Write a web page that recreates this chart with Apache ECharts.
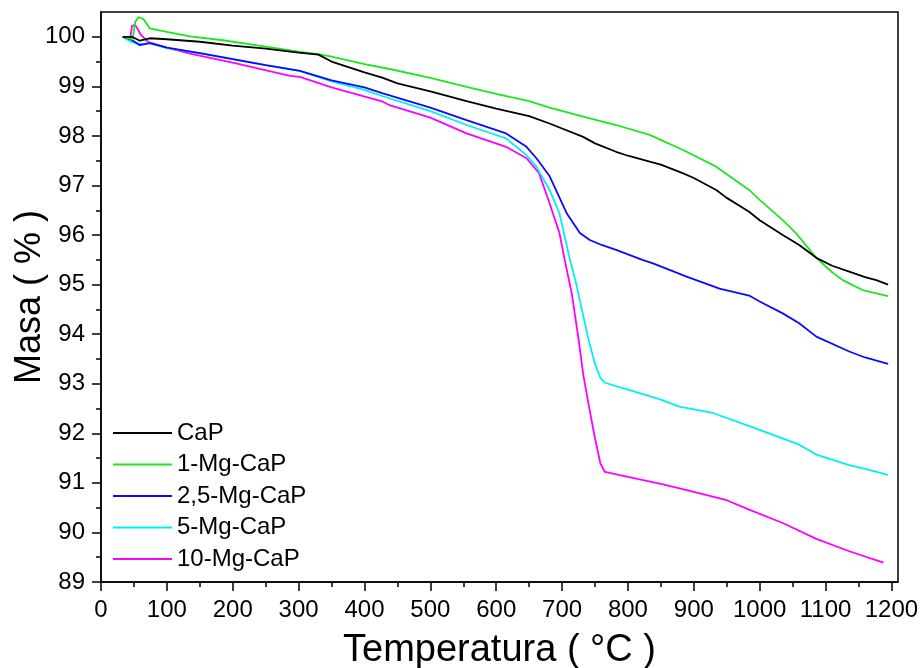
<!DOCTYPE html>
<html>
<head>
<meta charset="utf-8">
<script src="https://cdn.jsdelivr.net/npm/echarts@6/dist/echarts.min.js"></script>
<style>html,body{margin:0;padding:0;background:#fff;}#c{width:924px;height:668px;}</style>
</head>
<body>
<div id="c"></div>
<script>
// ---- data ----
const seriesNames = ['CaP', '1-Mg-CaP', '2,5-Mg-CaP', '5-Mg-CaP', '10-Mg-CaP'];
const seriesColors = ['#000000', '#1ee61e', '#0a0aff', '#00f0f0', '#ff00ff'];

const capT = [33, 47, 59, 74, 100, 150, 200, 250, 300, 330, 350, 400, 428, 450, 500, 555, 600, 650, 681, 700, 732, 750, 782, 800, 833, 850, 883, 900, 934, 950, 984, 1000, 1035, 1060, 1086, 1110, 1136, 1160, 1177, 1195];
const capM = [100.0, 100.0, 99.92, 99.97, 99.95, 99.9, 99.82, 99.76, 99.68, 99.64, 99.5, 99.28, 99.17, 99.06, 98.9, 98.7, 98.55, 98.4, 98.25, 98.15, 97.98, 97.85, 97.68, 97.6, 97.48, 97.42, 97.25, 97.15, 96.91, 96.75, 96.47, 96.3, 96.0, 95.8, 95.54, 95.38, 95.26, 95.15, 95.09, 95.0];

const mg1T = [33, 48, 52, 57, 65, 74, 100, 135, 185, 250, 300, 330, 350, 400, 438, 500, 555, 600, 650, 681, 732, 782, 833, 883, 934, 984, 1000, 1035, 1055, 1086, 1110, 1126, 1156, 1195];
const mg1M = [100.0, 99.95, 100.3, 100.4, 100.35, 100.17, 100.1, 100.01, 99.93, 99.8, 99.7, 99.65, 99.6, 99.45, 99.35, 99.17, 98.99, 98.85, 98.7, 98.57, 98.39, 98.22, 98.02, 97.72, 97.38, 96.91, 96.71, 96.3, 96.04, 95.54, 95.25, 95.09, 94.89, 94.77];

const mg25T = [33, 45, 59, 74, 100, 150, 200, 250, 302, 350, 400, 428, 500, 555, 615, 646, 661, 681, 707, 727, 742, 760, 782, 822, 838, 889, 939, 984, 1000, 1035, 1060, 1086, 1136, 1160, 1195];
const mg25M = [100.0, 99.95, 99.83, 99.87, 99.78, 99.67, 99.55, 99.43, 99.31, 99.12, 98.98, 98.86, 98.57, 98.32, 98.05, 97.78, 97.55, 97.19, 96.44, 96.04, 95.9, 95.8, 95.7, 95.5, 95.43, 95.16, 94.92, 94.78, 94.66, 94.42, 94.22, 93.95, 93.65, 93.53, 93.4];

const mg5T = [33, 45, 59, 74, 100, 150, 200, 250, 302, 350, 400, 428, 500, 555, 615, 646, 661, 681, 696, 712, 720, 730, 740, 750, 758, 765, 800, 850, 878, 929, 1000, 1060, 1086, 1136, 1160, 1195];
const mg5M = [100.0, 99.9, 99.85, 99.87, 99.77, 99.67, 99.55, 99.43, 99.31, 99.1, 98.93, 98.8, 98.5, 98.22, 97.95, 97.61, 97.38, 96.91, 96.44, 95.5, 95.1, 94.5, 93.9, 93.4, 93.12, 93.02, 92.88, 92.68, 92.54, 92.41, 92.07, 91.77, 91.57, 91.36, 91.28, 91.16];

const mg10T = [33, 44, 47, 52, 60, 71, 100, 135, 200, 287, 302, 350, 428, 438, 500, 555, 615, 646, 665, 681, 696, 704, 715, 725, 732, 740, 750, 758, 765, 800, 850, 900, 950, 984, 1035, 1086, 1136, 1188];
const mg10M = [100.0, 99.93, 100.22, 100.24, 100.05, 99.9, 99.78, 99.66, 99.48, 99.21, 99.19, 98.98, 98.69, 98.62, 98.37, 98.05, 97.78, 97.55, 97.25, 96.64, 96.04, 95.5, 94.8, 93.9, 93.2, 92.6, 91.9, 91.4, 91.22, 91.12, 90.98, 90.82, 90.65, 90.46, 90.19, 89.87, 89.62, 89.39];

const xTickLabels = [0, 100, 200, 300, 400, 500, 600, 700, 800, 900, 1000, 1100, 1200];
const xMinorTicks = [50, 150, 250, 350, 450, 550, 650, 750, 850, 950, 1050, 1150];
const yTickLabels = [89, 90, 91, 92, 93, 94, 95, 96, 97, 98, 99, 100];
const yMinorTicks = [89.5, 90.5, 91.5, 92.5, 93.5, 94.5, 95.5, 96.5, 97.5, 98.5, 99.5];

const xs = [capT, mg1T, mg25T, mg5T, mg10T];
const ys = [capM, mg1M, mg25M, mg5M, mg10M];

// ---- chart ----
const FONT = '"Liberation Sans", Arial, sans-serif';
const chart = echarts.init(document.getElementById('c'), null, {renderer: 'canvas'});
const zip = (a, b) => a.map((v, i) => [v, b[i]]);

const baseX = {type: 'value', min: 0, max: 1210, position: 'bottom'};
const baseY = {type: 'value', min: 89, max: 100.5, position: 'left'};

chart.setOption({
  animation: false,
  backgroundColor: '#ffffff',
  grid: {left: 101, top: 12, right: 26, bottom: 86, show: true, borderColor: '#000', borderWidth: 1.5,
         containLabel: false, outerBoundsMode: 'none'},
  legend: {
    orient: 'vertical', left: 108, top: 416, itemWidth: 59, itemHeight: 2, itemGap: 7.5,
    icon: 'rect',
    textStyle: {fontFamily: FONT, fontSize: 24, color: '#000', lineHeight: 24},
    data: seriesNames
  },
  xAxis: [
    Object.assign({}, baseX, {
      name: 'Temperatura ( °C )', nameLocation: 'middle', nameGap: 50,
      nameTextStyle: {fontFamily: FONT, fontSize: 38, color: '#000'},
      axisLine: {show: true, lineStyle: {color: '#000', width: 1.5}},
      axisTick: {show: true, length: 9, lineStyle: {color: '#000', width: 1.5}, customValues: xTickLabels},
      axisLabel: {fontFamily: FONT, fontSize: 24, color: '#000', margin: 16, customValues: xTickLabels,
                  formatter: v => String(v)},
      splitLine: {show: false}
    }),
    Object.assign({}, baseX, {
      axisLine: {show: false},
      axisTick: {show: true, length: 5, lineStyle: {color: '#000', width: 1.5}, customValues: xMinorTicks},
      axisLabel: {show: false},
      splitLine: {show: false}
    })
  ],
  yAxis: [
    Object.assign({}, baseY, {
      name: 'Masa ( % )', nameLocation: 'middle', nameGap: 53, nameRotate: 90, nameMoveOverlap: false,
      nameTextStyle: {fontFamily: FONT, fontSize: 36, color: '#000'},
      axisLine: {show: true, lineStyle: {color: '#000', width: 1.5}},
      axisTick: {show: true, length: 9, lineStyle: {color: '#000', width: 1.5}, customValues: yTickLabels},
      axisLabel: {fontFamily: FONT, fontSize: 24, color: '#000', margin: 16, customValues: yTickLabels,
                  formatter: v => String(v)},
      splitLine: {show: false}
    }),
    Object.assign({}, baseY, {
      axisLine: {show: false},
      axisTick: {show: true, length: 5, lineStyle: {color: '#000', width: 1.5}, customValues: yMinorTicks},
      axisLabel: {show: false},
      splitLine: {show: false}
    })
  ],
  series: seriesNames.map((n, i) => ({
    name: n, type: 'line', xAxisIndex: 0, yAxisIndex: 0,
    data: zip(xs[i], ys[i]),
    showSymbol: false, symbol: 'none',
    color: seriesColors[i],
    lineStyle: {width: 1.8, color: seriesColors[i]},
    z: 5 - i
  }))
});
</script>
</body>
</html>
